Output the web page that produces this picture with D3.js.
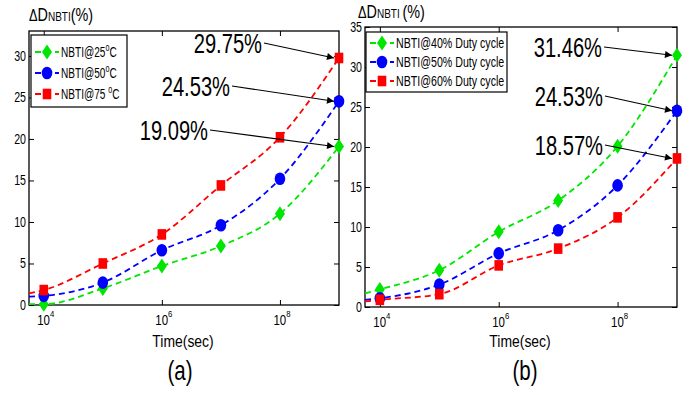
<!DOCTYPE html>
<html><head><meta charset="utf-8">
<script src="https://cdn.jsdelivr.net/npm/d3@7"></script>
<style>html,body{margin:0;padding:0;background:#fff;}svg{display:block;}</style>
</head><body>
<svg id="c" width="697" height="395"></svg>
<script>
// ---- data ----
const timeExps = [4, 5, 6, 7, 8, 9];          // time = 10^exp seconds
const curveStartExp = 3.75;                   // left edge where dashed fit begins
const xTickExps = [4, 6, 8];

// Panel (a): temperature
const seriesA = ["NBTI@25", "NBTI@50", "NBTI@75  "];
const a25 = [0.1, 2.0, 4.7, 7.1, 11.0, 19.09];
const a50 = [1.1, 2.7, 6.6, 9.6, 15.2, 24.53];
const a75 = [1.8, 5.0, 8.5, 14.4, 20.2, 29.75];
const aStart = [0.1, 1.0, 1.4];               // curve values at left edge
const yTicksA = [0, 5, 10, 15, 20, 25, 30];
const yMaxA = 33;
const labelsA = ["19.09%", "24.53%", "29.75%"];

// Panel (b): duty cycle
const seriesB = ["NBTI@40% Duty cycle", "NBTI@50% Duty cycle", "NBTI@60% Duty cycle"];
const b40 = [2.2, 4.6, 9.4, 13.3, 20.1, 31.46];
const b50 = [1.1, 2.8, 6.7, 9.6, 15.2, 24.53];
const b60 = [0.9, 1.6, 5.2, 7.3, 11.2, 18.57];
const bStart = [1.7, 0.9, 0.7];
const yTicksB = [0, 5, 10, 15, 20, 25, 30, 35];
const yMaxB = 35;
const labelsB = ["31.46%", "24.53%", "18.57%"];

const colors = ["#00e600", "#0000ff", "#ff0000"];
const FONT = "'Liberation Sans', Arial, sans-serif";

const svg = d3.select("#c");
svg.append("rect").attr("width", 697).attr("height", 395).attr("fill", "#fff");
const defs = svg.append("defs");
defs.append("marker").attr("id", "arr").attr("viewBox", "0 0 10 10").attr("refX", 10).attr("refY", 5)
  .attr("markerWidth", 9).attr("markerHeight", 7).attr("orient", "auto").attr("markerUnits", "userSpaceOnUse")
  .append("path").attr("d", "M0,0L10,5L0,10Z").attr("fill", "#000");

function text(g, x, y, anchor, size, sx) {
  return g.append("text")
    .attr("transform", `translate(${x},${y}) scale(${sx},1)`)
    .attr("text-anchor", anchor)
    .attr("font-family", FONT)
    .attr("font-size", size)
    .attr("fill", "#000");
}

function marker(g, kind, x, y, color) {
  if (kind === 0) {
    g.append("path").attr("d", `M${x},${y-7.5}L${x+5},${y}L${x},${y+7.5}L${x-5},${y}Z`).attr("fill", color);
  } else if (kind === 1) {
    g.append("ellipse").attr("cx", x).attr("cy", y).attr("rx", 5.3).attr("ry", 6.3).attr("fill", color);
  } else {
    g.append("rect").attr("x", x - 4.3).attr("y", y - 5.3).attr("width", 8.6).attr("height", 10.6).attr("fill", color);
  }
}

function panel(cfg) {
  const {left, top, right, bottom, yMax, yTicks, series, names, starts, labels, labelPos, legend, yTitle, xTitleX, panelLabel, panelLabelX, sup} = cfg;
  const g = svg.append("g");
  const x = d3.scaleLog().domain([Math.pow(10, curveStartExp), 1e9]).range([left, right]);
  const y = d3.scaleLinear().domain([0, yMax]).range([bottom, top]);

  const ax = [
    [d3.axisBottom(x).tickValues(xTickExps.map(e => Math.pow(10, e))).tickFormat(""), `translate(0,${bottom})`],
    [d3.axisTop(x).tickValues(xTickExps.map(e => Math.pow(10, e))).tickFormat(""), `translate(0,${top})`],
    [d3.axisLeft(y).tickValues(yTicks).tickFormat(d3.format("d")), `translate(${left},0)`],
    [d3.axisRight(y).tickValues(yTicks).tickFormat(""), `translate(${right},0)`]
  ];
  ax.forEach(([a, t]) => {
    const ag = g.append("g").attr("transform", t)
      .call(a.tickSize(-5).tickSizeOuter(0).tickPadding(4));
    ag.select(".domain").remove();
    ag.selectAll("line").attr("stroke", "#000").attr("stroke-width", 1);
    ag.selectAll("text").attr("font-family", FONT).attr("font-size", 14).attr("fill", "#000")
      .attr("transform", `scale(0.76,1)`);
  });
  g.append("rect").attr("x", left).attr("y", top).attr("width", right - left).attr("height", bottom - top)
    .attr("fill", "none").attr("stroke", "#000").attr("stroke-width", 1.3);

  // x tick labels 10^n
  xTickExps.forEach(e => {
    const t = text(g, x(Math.pow(10, e)) + 2, bottom + 20, "middle", 14, 0.82);
    t.append("tspan").text("10");
    t.append("tspan").attr("font-size", 9.5).attr("dy", -8).text(e);
  });

  // series
  const line = d3.line().x(d => x(d[0])).y(d => y(d[1])).curve(d3.curveMonotoneX);
  series.forEach((vals, i) => {
    const pts = [[Math.pow(10, curveStartExp), starts[i]]].concat(timeExps.map((e, j) => [Math.pow(10, e), vals[j]]));
    g.append("path").attr("d", line(pts)).attr("fill", "none").attr("stroke", colors[i])
      .attr("stroke-width", 1.8).attr("stroke-dasharray", "6,4");
  });
  series.forEach((vals, i) => {
    timeExps.forEach((e, j) => marker(g, cfg.kinds[i], x(Math.pow(10, e)), y(vals[j]), colors[i]));
  });

  // annotations
  labels.forEach((lab, i) => {
    const p = labelPos[i];
    text(g, p[0], p[1], "end", 28, 0.72).text(lab);
    const tx = x(1e9) - 5, ty = y(p[2]);
    g.append("line").attr("x1", p[0] + 2).attr("y1", p[1] - 10).attr("x2", tx).attr("y2", ty)
      .attr("stroke", "#000").attr("stroke-width", 1.1).attr("marker-end", "url(#arr)");
  });

  // legend
  const lg = g.append("g");
  lg.append("rect").attr("x", legend.x).attr("y", legend.y).attr("width", legend.w).attr("height", legend.h)
    .attr("fill", "#fff").attr("stroke", "#000").attr("stroke-width", 1.2);
  names.forEach((n, i) => {
    const ly = legend.y + legend.first + i * legend.step;
    lg.append("line").attr("x1", legend.x + 4).attr("x2", legend.x + 28).attr("y1", ly).attr("y2", ly)
      .attr("stroke", colors[i]).attr("stroke-width", 1.8).attr("stroke-dasharray", "6,4");
    marker(lg, cfg.kinds[i], legend.x + 16, ly, colors[i]);
    const t = text(lg, legend.x + 30, ly + 5, "start", 14, legend.sx);
    t.append("tspan").text(n);
    if (sup) {
      t.append("tspan").attr("font-size", 10).attr("dy", -6).text("o");
      t.append("tspan").attr("dy", 6).text("C");
    }
  });

  // titles
  const yt = text(g, yTitle[0], yTitle[1], "start", 18, 0.8);
  yt.append("tspan").attr("font-size", 16).text("\u0394");
  yt.append("tspan").text("D");
  yt.append("tspan").attr("font-size", 12.5).text("NBTI" + yTitle[2]);
  yt.append("tspan").text("(%)");
  text(g, xTitleX, 347, "middle", 16, 0.87).text("Time(sec)");
  text(g, panelLabelX, 380, "middle", 27, 0.76).text(panelLabel);
}

panel({
  left: 29, top: 31, right: 339, bottom: 305, yMax: yMaxA, yTicks: yTicksA,
  series: [a25, a50, a75], names: seriesA, starts: aStart, kinds: [0, 1, 2],
  labels: labelsA, labelPos: [[208, 140, 19.09], [230, 96, 24.53], [262, 53, 29.75]],
  legend: {x: 31, y: 35, w: 96, h: 72, first: 17, step: 21, sx: 0.72},
  yTitle: [29, 21, ""], xTitleX: 183, panelLabel: "(a)", panelLabelX: 180, sup: true
});
panel({
  left: 365, top: 27, right: 677, bottom: 307, yMax: yMaxB, yTicks: yTicksB,
  series: [b40, b50, b60], names: seriesB, starts: bStart, kinds: [0, 1, 2],
  labels: labelsB, labelPos: [[602, 57, 31.46], [603, 106, 24.53], [603, 155, 18.57]],
  legend: {x: 366, y: 32, w: 141, h: 60, first: 11, step: 19, sx: 0.76},
  yTitle: [358, 18, " "], xTitleX: 520, panelLabel: "(b)", panelLabelX: 525, sup: false
});
</script>
</body></html>
